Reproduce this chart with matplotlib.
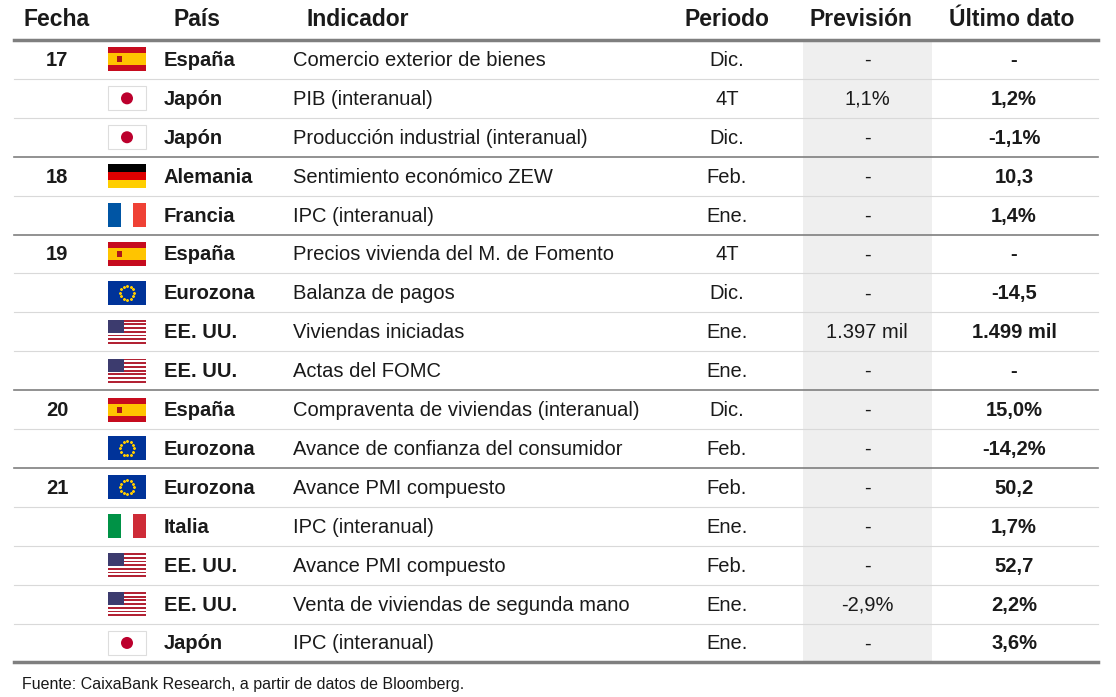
import matplotlib
matplotlib.use("Agg")
import matplotlib.pyplot as plt
from matplotlib.patches import Rectangle, Circle
import numpy as np

fechas = ["17","","","18","","19","","","","20","","21","","","",""]
paises = ["España","Japón","Japón","Alemania","Francia","España","Eurozona","EE. UU.","EE. UU.",
          "España","Eurozona","Eurozona","Italia","EE. UU.","EE. UU.","Japón"]
indicadores = ["Comercio exterior de bienes","PIB (interanual)","Producción industrial (interanual)",
               "Sentimiento económico ZEW","IPC (interanual)","Precios vivienda del M. de Fomento",
               "Balanza de pagos","Viviendas iniciadas","Actas del FOMC",
               "Compraventa de viviendas (interanual)","Avance de confianza del consumidor",
               "Avance PMI compuesto","IPC (interanual)","Avance PMI compuesto",
               "Venta de viviendas de segunda mano","IPC (interanual)"]
periodos = ["Dic.","4T","Dic.","Feb.","Ene.","4T","Dic.","Ene.","Ene.","Dic.","Feb.","Feb.","Ene.","Feb.","Ene.","Ene."]
previsiones = ["-","1,1%","-","-","-","-","-","1.397 mil","-","-","-","-","-","-","-2,9%","-"]
ultimos = ["-","1,2%","-1,1%","10,3","1,4%","-","-14,5","1.499 mil","-","15,0%","-14,2%","50,2","1,7%","52,7","2,2%","3,6%"]
headers = ["Fecha","País","Indicador","Periodo","Previsión","Último dato"]
group_ends = [2,4,8,10]

W,H = 1116,697
fig = plt.figure(figsize=(W/100,H/100),dpi=100)
ax = fig.add_axes([0,0,1,1]); ax.set_xlim(0,W); ax.set_ylim(H,0); ax.axis("off")
FONT = "Liberation Sans"
fs = 14.5
txt = "#1a1a1a"
top, rh = 40, 38.9
n = len(paises)
ax.add_patch(Rectangle((803,top),129,rh*n,color="#efefef",lw=0,zorder=0))
hy = 20
for x,t,ha in [(57,headers[0],"center"),(197,headers[1],"center"),(306,headers[2],"left"),
               (727,headers[3],"center"),(861,headers[4],"center"),(1012,headers[5],"center")]:
    ax.text(x,hy,t,ha=ha,va="center",fontsize=16.5,fontweight="bold",family=FONT,color=txt)

def flag(kind,x,y,w=38,h=24):
    if kind=="España":
        ax.add_patch(Rectangle((x,y),w,h,color="#c60b1e",lw=0))
        ax.add_patch(Rectangle((x,y+h/4),w,h/2,color="#ffc400",lw=0))
        ax.add_patch(Rectangle((x+9,y+9),5,6,color="#ad1519",lw=0))
    elif kind=="Japón":
        ax.add_patch(Rectangle((x,y),w,h,facecolor="white",edgecolor="#dddddd",lw=0.8))
        ax.add_patch(Circle((x+w/2,y+h/2),6,color="#bc002d",lw=0))
    elif kind=="Alemania":
        for i,c in enumerate(["#000000","#dd0000","#ffce00"]):
            ax.add_patch(Rectangle((x,y+i*h/3),w,h/3,color=c,lw=0))
    elif kind=="Francia":
        for i,c in enumerate(["#0055a4","#ffffff","#ef4135"]):
            ax.add_patch(Rectangle((x+i*w/3,y),w/3,h,color=c,lw=0))
    elif kind=="Italia":
        for i,c in enumerate(["#009246","#ffffff","#ce2b37"]):
            ax.add_patch(Rectangle((x+i*w/3,y),w/3,h,color=c,lw=0))
    elif kind=="Eurozona":
        ax.add_patch(Rectangle((x,y),w,h,color="#003399",lw=0))
        a = np.linspace(0,2*np.pi,13)[:-1]
        ax.scatter(x+w/2+7*np.cos(a),y+h/2+7*np.sin(a),s=1.5,color="#ffcc00",marker="*",zorder=5)
    elif kind=="EE. UU.":
        for i in range(13):
            ax.add_patch(Rectangle((x,y+i*h/13),w,h/13,color="#b22234" if i%2==0 else "white",lw=0))
        ax.add_patch(Rectangle((x,y),w*0.42,h*7/13,color="#3c3b6e",lw=0))

for i in range(n):
    cy = top+rh*(i+0.5)+1
    if fechas[i]:
        ax.text(57,cy,fechas[i],ha="center",va="center",fontsize=fs,fontweight="bold",family=FONT,color=txt)
    flag(paises[i],108,cy-13)
    ax.text(164,cy,paises[i],ha="left",va="center",fontsize=fs,fontweight="bold",family=FONT,color=txt)
    ax.text(293,cy,indicadores[i],ha="left",va="center",fontsize=fs,family=FONT,color=txt)
    ax.text(727,cy,periodos[i],ha="center",va="center",fontsize=fs,family=FONT,color=txt)
    ax.text(867,cy,previsiones[i],ha="center",va="center",fontsize=fs,family=FONT,color=txt)
    ax.text(1014,cy,ultimos[i],ha="center",va="center",fontsize=fs,fontweight="bold",family=FONT,color=txt)
    if i<n-1:
        yb = top+rh*(i+1)
        if i in group_ends:
            ax.plot([14,1098],[yb,yb],color="#7f7f7f",lw=1.2)
        else:
            ax.plot([14,1098],[yb,yb],color="#d9d9d9",lw=0.8)
ax.plot([14,1098],[top,top],color="#7f7f7f",lw=2.5)
ax.plot([14,1098],[top+rh*n,top+rh*n],color="#7f7f7f",lw=2.5)
ax.text(22,684,"Fuente: CaixaBank Research, a partir de datos de Bloomberg.",ha="left",va="center",
        fontsize=11.5,family=FONT,color=txt)
fig.savefig("out.png",dpi=100)
